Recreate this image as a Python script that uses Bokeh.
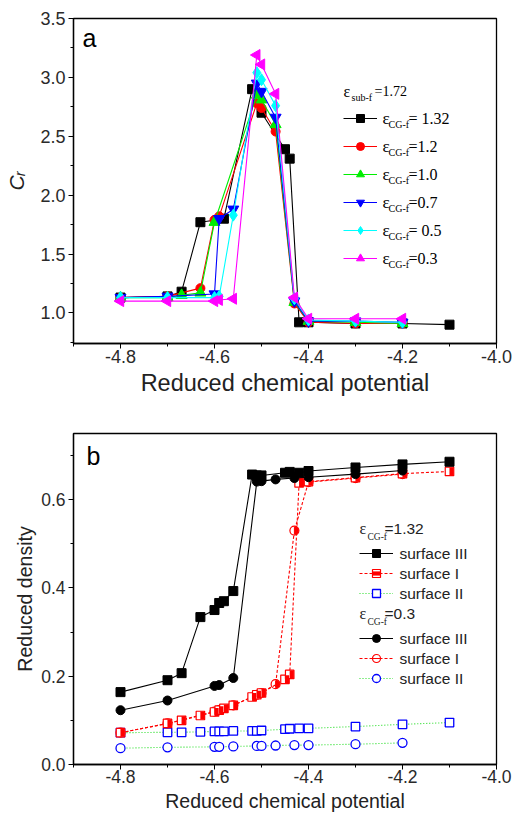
import math
from bokeh.plotting import figure
from bokeh.models import (Label, Legend, LegendItem, FixedTicker, Range1d,
                          CustomJSTickFormatter, ColumnDataSource)
from bokeh.transform import dodge
from bokeh.layouts import column
from bokeh.embed import file_html
from bokeh.resources import INLINE

# ---------------- Panel a data: C_r vs reduced chemical potential ----------------
a_x_132 = [-4.8, -4.7, -4.67, -4.63, -4.58, -4.52, -4.5, -4.45, -4.44, -4.42, -4.4, -4.3, -4.2, -4.1]
a_y_132 = [1.13, 1.14, 1.18, 1.77, 1.80, 2.90, 2.70, 2.39, 2.31, 0.92, 0.92, 0.91, 0.91, 0.90]

a_x_12 = [-4.8, -4.7, -4.63, -4.6, -4.59, -4.51, -4.5, -4.47, -4.43, -4.4, -4.3, -4.2]
a_y_12 = [1.13, 1.14, 1.21, 1.79, 1.82, 2.78, 2.74, 2.54, 1.08, 0.92, 0.91, 0.91]

a_x_10 = [-4.8, -4.7, -4.67, -4.63, -4.6, -4.51, -4.5, -4.47, -4.43, -4.4, -4.3, -4.2]
a_y_10 = [1.13, 1.13, 1.15, 1.17, 1.77, 2.85, 2.81, 2.60, 1.09, 0.93, 0.92, 0.91]

a_x_07 = [-4.8, -4.7, -4.6, -4.59, -4.56, -4.51, -4.5, -4.47, -4.43, -4.4, -4.3, -4.2]
a_y_07 = [1.13, 1.14, 1.16, 1.80, 1.88, 2.95, 2.88, 2.66, 1.10, 0.93, 0.93, 0.92]

a_x_05 = [-4.8, -4.7, -4.6, -4.59, -4.56, -4.51, -4.5, -4.47, -4.43, -4.4, -4.3, -4.2]
a_y_05 = [1.13, 1.13, 1.13, 1.14, 1.83, 3.04, 2.98, 2.76, 1.12, 0.94, 0.93, 0.92]

a_x_03 = [-4.8, -4.7, -4.6, -4.59, -4.56, -4.51, -4.5, -4.47, -4.43, -4.4, -4.3, -4.2]
a_y_03 = [1.10, 1.10, 1.10, 1.11, 1.12, 3.19, 3.11, 2.86, 1.13, 0.95, 0.95, 0.95]

a_labels = ["= 1.32", "=1.2", "=1.0", "=0.7", "= 0.5", "=0.3"]
a_xticks = [-4.8, -4.6, -4.4, -4.2, -4.0]
a_xminor = [-4.9, -4.7, -4.5, -4.3, -4.1]
a_yticks = [1.0, 1.5, 2.0, 2.5, 3.0, 3.5]
a_yminor = [0.75, 1.25, 1.75, 2.25, 2.75, 3.25]

# ---------------- Panel b data: reduced density ----------------
b_x_s3_132 = [-4.8, -4.7, -4.67, -4.63, -4.6, -4.59, -4.58, -4.56, -4.52, -4.51, -4.5,
              -4.45, -4.44, -4.42, -4.4, -4.3, -4.2, -4.1]
b_y_s3_132 = [0.164, 0.191, 0.207, 0.334, 0.350, 0.366, 0.370, 0.393, 0.657, 0.655, 0.655,
              0.661, 0.663, 0.661, 0.665, 0.673, 0.680, 0.686]

b_x_s1_132 = [-4.8, -4.7, -4.67, -4.63, -4.6, -4.59, -4.58, -4.56, -4.52, -4.51, -4.5,
              -4.45, -4.44, -4.42, -4.4, -4.3, -4.2, -4.1]
b_y_s1_132 = [0.072, 0.093, 0.100, 0.111, 0.119, 0.123, 0.127, 0.134, 0.153, 0.158, 0.162,
              0.193, 0.204, 0.638, 0.641, 0.650, 0.659, 0.664]

b_x_s2_132 = [-4.8, -4.7, -4.67, -4.63, -4.6, -4.59, -4.58, -4.56, -4.52, -4.51, -4.5,
              -4.45, -4.44, -4.42, -4.4, -4.3, -4.2, -4.1]
b_y_s2_132 = [0.072, 0.073, 0.073, 0.074, 0.075, 0.075, 0.075, 0.076, 0.076, 0.076, 0.077,
              0.080, 0.081, 0.082, 0.082, 0.086, 0.091, 0.095]

b_x_s3_03 = [-4.8, -4.7, -4.6, -4.59, -4.56, -4.51, -4.5, -4.47, -4.43, -4.4, -4.3, -4.2]
b_y_s3_03 = [0.123, 0.145, 0.178, 0.180, 0.196, 0.641, 0.642, 0.646, 0.649, 0.651, 0.658, 0.666]

b_x_s1_03 = [-4.8, -4.7, -4.6, -4.59, -4.56, -4.51, -4.5, -4.47, -4.43, -4.4, -4.3, -4.2]
b_y_s1_03 = [0.072, 0.093, 0.120, 0.123, 0.134, 0.158, 0.162, 0.182, 0.530, 0.640, 0.649, 0.658]

b_x_s2_03 = [-4.8, -4.7, -4.6, -4.59, -4.56, -4.51, -4.5, -4.47, -4.43, -4.4, -4.3, -4.2]
b_y_s2_03 = [0.037, 0.039, 0.040, 0.040, 0.041, 0.042, 0.042, 0.043, 0.044, 0.044, 0.046, 0.049]

b_surface_labels = ["surface III", "surface I", "surface II"]
b_xticks = [-4.8, -4.6, -4.4, -4.2, -4.0]
b_xminor = [-4.9, -4.7, -4.5, -4.3, -4.1]
b_yticks = [0.0, 0.2, 0.4, 0.6]
b_yminor = [0.1, 0.3, 0.5, 0.7]

TICK_COLOR = "#2a2a2a"
TITLE_COLOR = "#222222"


def style(p, xt, xm, yt, ym, fsize):
    p.xgrid.visible = False
    p.ygrid.visible = False
    p.outline_line_color = "black"
    p.outline_line_width = 1.3
    p.outline_line_alpha = 1.0
    p.xaxis.ticker = FixedTicker(ticks=xt, minor_ticks=xm)
    p.yaxis.ticker = FixedTicker(ticks=yt, minor_ticks=ym)
    for ax in p.xaxis + p.yaxis:
        ax.formatter = CustomJSTickFormatter(code="return tick.toFixed(1)")
        ax.axis_line_color = "black"
        ax.axis_line_width = 1.3
        ax.major_tick_out = 5
        ax.major_tick_in = 0
        ax.minor_tick_out = 3
        ax.minor_tick_in = 0
        ax.major_tick_line_color = "black"
        ax.minor_tick_line_color = "black"
        ax.major_label_text_font = "Liberation Sans"
        ax.major_label_text_font_size = fsize
        ax.major_label_text_color = TICK_COLOR
        ax.major_label_standoff = 3
        ax.axis_label_text_font = "Liberation Sans"
        ax.axis_label_text_font_style = "normal"
        ax.axis_label_text_color = TITLE_COLOR


def lab(p, x, y, text, size, font="Liberation Sans", fstyle="normal",
        align="left", baseline="middle", angle=0.0, color="black"):
    p.add_layout(Label(x=x, y=y, x_units="screen", y_units="screen", text=text,
                       text_font=font, text_font_size=size, text_font_style=fstyle,
                       text_align=align, text_baseline=baseline, angle=angle,
                       text_color=color))


# ======================= Panel a =======================
pa = figure(width=520, height=408, x_range=Range1d(-4.9, -4.0), y_range=Range1d(0.74, 3.5),
            output_backend="svg", toolbar_location=None,
            min_border_left=73, min_border_right=15, min_border_top=18, min_border_bottom=65)
style(pa, a_xticks, a_xminor, a_yticks, a_yminor, "18px")
pa.xaxis.major_label_standoff = 1
pa.xaxis.axis_label = "Reduced chemical potential"
pa.xaxis.axis_label_text_font_size = "23.5px"
pa.xaxis.axis_label_standoff = 4
pa.yaxis.axis_label = "C\u1d63"
pa.yaxis.axis_label_text_font_size = "21px"
pa.yaxis.axis_label_text_font_style = "italic"
pa.yaxis.axis_label_standoff = 9

a_series = [
    (a_x_132, a_y_132, "black", "square", 9, 0.0),
    (a_x_12, a_y_12, "red", "circle", 9, 0.0),
    (a_x_10, a_y_10, "#00ee00", "triangle", 11, 0.0),
    (a_x_07, a_y_07, "blue", "inverted_triangle", 11, 0.0),
    (a_x_05, a_y_05, "cyan", "diamond", 12, 0.0),
    (a_x_03, a_y_03, "magenta", "triangle", 11, math.pi / 2),
]
a_items = []
for xs, ys, col, mk, sz, ang in a_series:
    rl = pa.line(xs, ys, line_color=col, line_width=1.1)
    rs = pa.scatter(xs, ys, marker=mk, size=sz, angle=ang, fill_color=col, line_color=col)
    a_items.append(LegendItem(label=" ", renderers=[rl, rs]))

leg_a = Legend(items=a_items, location=(270, 75), glyph_width=34, glyph_height=20,
               label_height=20, label_width=1, spacing=8, padding=0, margin=0,
               label_standoff=0, label_text_font_size="1px",
               border_line_alpha=0, background_fill_alpha=0)
pa.add_layout(leg_a)

# legend title
lab(pa, 270, 252, "ε", "16px", font="Liberation Serif")
lab(pa, 278, 246, "sub-f", "10px", font="Liberation Serif")
lab(pa, 301, 252, "=1.72", "14px", font="Liberation Serif")
# legend rows
for i, t in enumerate(a_labels):
    yc = 225 - 28 * i
    lab(pa, 309, yc, "ε", "17px", font="Liberation Serif")
    lab(pa, 315, yc - 6, "CG-f", "10px", font="Liberation Serif")
    lab(pa, 335, yc, t, "16px", font="Liberation Serif")

lab(pa, 9, 306, "a", "25px")

# ======================= Panel b =======================
pb = figure(width=520, height=409, x_range=Range1d(-4.9, -4.0), y_range=Range1d(0.0, 0.75),
            output_backend="svg", toolbar_location=None,
            min_border_left=63, min_border_right=24, min_border_top=25, min_border_bottom=53)
style(pb, b_xticks, b_xminor, b_yticks, b_yminor, "17.5px")
pb.xaxis.major_label_standoff = 0
pb.xaxis.axis_label = "Reduced chemical potential"
pb.xaxis.axis_label_text_font_size = "19.5px"
pb.xaxis.axis_label_standoff = 4
pb.yaxis.axis_label = "Reduced density"
pb.yaxis.axis_label_text_font_size = "19.5px"
pb.yaxis.axis_label_standoff = 2

GREEN = "#22dd22"
# half a marker width (4.25 px) expressed in x data units of panel b's frame (433 px wide)
HALF_DX = 0.9 / 433 * 2.1


def half_square(p, xs, ys, col):
    src = ColumnDataSource(dict(x=xs, y=ys))
    r1 = p.scatter("x", "y", source=src, marker="square", size=8.5, fill_color="white",
                   line_color=col, line_width=1.2)
    r2 = p.scatter(dodge("x", HALF_DX), "y", source=src, marker="dash", size=8,
                   angle=math.pi / 2, line_color=col, line_width=4.2)
    return [r1, r2]


def half_circle(p, xs, ys, col):
    src = ColumnDataSource(dict(x=xs, y=ys))
    r1 = p.scatter("x", "y", source=src, marker="circle", size=9, fill_color="white",
                   line_color=col, line_width=1.2)
    p.wedge("x", "y", source=src, radius=4.4, radius_units="screen",
            start_angle=-math.pi / 2, end_angle=math.pi / 2, fill_color=col, line_color=None)
    # narrow centred bar, used for the legend sample only
    r2 = p.scatter("x", "y", source=src, marker="dash", size=7, angle=math.pi / 2,
                   line_color=col, line_width=1.0)
    return [r1, r2]


# surface II (open blue markers, green dotted)
l_s2_03 = pb.line(b_x_s2_03, b_y_s2_03, line_color=GREEN, line_width=1.1, line_dash="1 2")
m_s2_03 = pb.scatter(b_x_s2_03, b_y_s2_03, marker="circle", size=9, fill_color="white",
                     line_color="blue", line_width=1.3)
l_s2_132 = pb.line(b_x_s2_132, b_y_s2_132, line_color=GREEN, line_width=1.1, line_dash="1 2")
m_s2_132 = pb.scatter(b_x_s2_132, b_y_s2_132, marker="square", size=8.5, fill_color="white",
                      line_color="blue", line_width=1.3)
# surface I (red, dashed)
l_s1_03 = pb.line(b_x_s1_03, b_y_s1_03, line_color="red", line_width=1.1, line_dash="3 2")
m_s1_03 = half_circle(pb, b_x_s1_03, b_y_s1_03, "red")
l_s1_132 = pb.line(b_x_s1_132, b_y_s1_132, line_color="red", line_width=1.1, line_dash="3 2")
m_s1_132 = half_square(pb, b_x_s1_132, b_y_s1_132, "red")
# surface III (black, solid)
l_s3_03 = pb.line(b_x_s3_03, b_y_s3_03, line_color="black", line_width=1.1)
m_s3_03 = pb.scatter(b_x_s3_03, b_y_s3_03, marker="circle", size=9, fill_color="black",
                     line_color="black")
l_s3_132 = pb.line(b_x_s3_132, b_y_s3_132, line_color="black", line_width=1.1)
m_s3_132 = pb.scatter(b_x_s3_132, b_y_s3_132, marker="square", size=9, fill_color="black",
                      line_color="black")

common = dict(glyph_width=34, glyph_height=20, label_height=20, label_width=1, spacing=0,
              padding=0, margin=0, label_standoff=0, label_text_font_size="1px",
              border_line_alpha=0, background_fill_alpha=0)
leg_b1 = Legend(items=[LegendItem(label=" ", renderers=[l_s3_132, m_s3_132]),
                       LegendItem(label=" ", renderers=[l_s1_132] + m_s1_132),
                       LegendItem(label=" ", renderers=[l_s2_132, m_s2_132])],
                location=(286, 161), **common)
leg_b2 = Legend(items=[LegendItem(label=" ", renderers=[l_s3_03, m_s3_03]),
                       LegendItem(label=" ", renderers=[l_s1_03] + m_s1_03),
                       LegendItem(label=" ", renderers=[l_s2_03, m_s2_03])],
                location=(286, 76), **common)
pb.add_layout(leg_b1)
pb.add_layout(leg_b2)

# legend titles
for yc, val in ((236, "=1.32"), (151, "=0.3")):
    lab(pb, 286, yc, "ε", "16px", font="Liberation Serif", color=TITLE_COLOR)
    lab(pb, 294, yc - 8, "CG-f", "9.5px", font="Liberation Serif", color=TITLE_COLOR)
    lab(pb, 311, yc, val, "15.5px", color=TITLE_COLOR)
for base in (211, 126):
    for i, t in enumerate(b_surface_labels):
        lab(pb, 326, base - 20 * i, t, "15.5px", color=TITLE_COLOR)

lab(pb, 13, 309, "b", "25px")

layout = column(pa, pb, spacing=0)
open("out.html", "w").write(file_html(layout, INLINE))
